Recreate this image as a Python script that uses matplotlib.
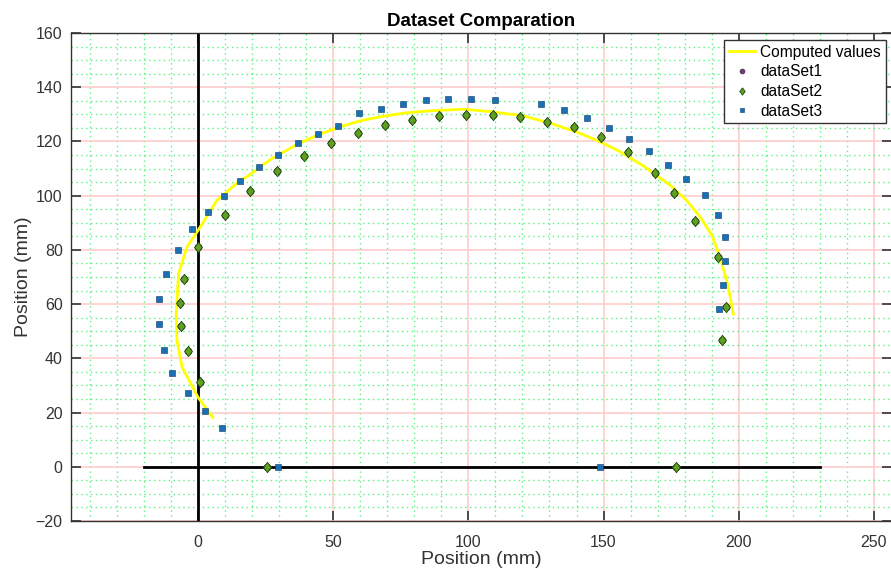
#!/usr/bin/env python3
"""Dataset comparison: computed trajectory vs three measured point sets."""

import matplotlib
matplotlib.use("Agg")
import matplotlib.pyplot as plt
from matplotlib.ticker import MultipleLocator

plt.rcParams["font.family"] = ["Liberation Sans", "DejaVu Sans"]

# computed trajectory
curve_x = [5.5, 0.0, -5.9, -7.8, -8.1, -7.2, -4.1, 0.0, 7.0, 15.6, 18.1, 27.0,
           36.6, 44.5, 52.6, 60.0, 67.4, 76.5, 85.9, 98.2, 108.0, 120.0, 130.0,
           140.0, 148.0, 155.6, 165.0, 174.6, 180.5, 185.7, 190.0, 193.1,
           196.0, 198.0]
curve_y = [18.2, 25.6, 36.7, 46.6, 56.6, 71.2, 81.1, 87.2, 98.3, 105.7, 107.0,
           113.5, 118.9, 122.5, 125.4, 127.6, 129.1, 130.5, 131.3, 131.9, 131.0,
           129.5, 126.8, 123.5, 120.2, 116.5, 110.8, 103.9, 98.5, 92.2, 85.5,
           77.4, 67.0, 56.4]

# dataSet2 (dataSet1 coincides with it)
ds2_x = [25.5, 0.85, -3.7, -6.2, -6.5, -5.3, 0.0, 9.8, 19.3, 29.3, 39.2, 49.2,
         59.1, 69.2, 79.1, 89.1, 99.1, 109.1, 119.0, 129.1, 139.1, 149.1, 159.1,
         169.1, 176.0, 183.8, 192.5, 195.2, 193.9, 176.8]
ds2_y = [0.0, 31.2, 42.6, 51.9, 60.5, 69.4, 81.1, 92.8, 101.7, 109.2, 114.5,
         119.3, 123.2, 126.1, 128.0, 129.4, 129.9, 129.6, 129.0, 127.1, 125.3,
         121.7, 116.0, 108.2, 100.8, 90.7, 77.4, 59.1, 46.6, 0.0]
ds1_x = list(ds2_x)
ds1_y = list(ds2_y)

# dataSet3
ds3_x = [29.6, 9.0, 2.6, -3.7, -9.5, -12.5, -14.3, -14.6, -11.8, -7.4, -2.2,
         3.7, 9.7, 15.6, 22.4, 29.4, 36.8, 44.2, 51.9, 59.7, 67.8, 75.9, 84.3,
         92.5, 101.1, 109.9, 126.9, 135.4, 143.8, 152.1, 159.4, 166.7, 173.8,
         180.6, 187.5, 192.2, 194.8, 195.0, 194.3, 192.8, 148.7]
ds3_y = [0.0, 14.4, 20.4, 27.2, 34.6, 43.1, 52.5, 61.9, 71.1, 80.1, 87.6,
         94.0, 99.8, 105.4, 110.4, 115.1, 119.3, 122.7, 125.7, 130.4, 131.9,
         133.9, 135.2, 135.8, 135.8, 135.2, 133.8, 131.5, 128.8, 124.8, 121.0,
         116.4, 111.4, 106.2, 100.4, 93.0, 84.8, 75.8, 67.2, 58.2, 0.0]

# reference axes drawn in black
xaxis_x = [-20, 230]
xaxis_y = [0, 0]
yaxis_x = [0, 0]
yaxis_y = [-20, 160]

# slightly narrow diamond, like the reference marker
DIAMOND = [(0, 1), (0.75, 0), (0, -1), (-0.75, 0), (0, 1)]


def main():
    fig = plt.figure(figsize=(8.91, 5.73), dpi=100)
    ax = fig.add_axes([71 / 891, 52 / 573, 821 / 891, 488 / 573])

    ax.set_xlim(-47, 256.7)
    ax.set_ylim(-20, 160)

    # grids: pink major, green dotted minor
    ax.xaxis.set_major_locator(MultipleLocator(50))
    ax.yaxis.set_major_locator(MultipleLocator(20))
    ax.xaxis.set_minor_locator(MultipleLocator(10))
    ax.yaxis.set_minor_locator(MultipleLocator(5))
    ax.grid(which="minor", color="#22ee55", linestyle=(0, (1, 2.5)), lw=1.0, alpha=0.75)
    ax.grid(which="major", color="#ffcccc", linestyle="-", lw=1.2)
    ax.set_axisbelow(True)

    ax.plot(yaxis_x, yaxis_y, color="black", lw=2, zorder=2)
    ax.plot(xaxis_x, xaxis_y, color="black", lw=2, zorder=2)

    ax.plot(curve_x, curve_y, color="#ffff00", lw=2, label="Computed values", zorder=3)
    ax.plot(ds1_x, ds1_y, "o", color="#7e2f8e", ms=5, mec="#333333", mew=0.5,
            label="dataSet1", zorder=4)
    ax.plot(ds2_x, ds2_y, marker=DIAMOND, ls="none", color="#5fa020", ms=7.5,
            mec="#1f4a10", mew=0.6, label="dataSet2", zorder=5)
    ax.plot(ds3_x, ds3_y, "s", color="#1b6fb5", ms=4.5, mec="#0b3a66", mew=0.4,
            label="dataSet3", zorder=5)

    ax.tick_params(which="major", direction="in", length=7, width=1.2,
                   top=True, right=True, labelsize=11.5, color="#333333",
                   labelcolor="#333333")
    ax.tick_params(axis="x", pad=10)
    ax.tick_params(axis="y", pad=6)
    ax.tick_params(which="minor", length=0)
    for sp in ax.spines.values():
        sp.set_color("#333333")
        sp.set_linewidth(1.0)

    ax.set_title("Dataset Comparation", fontsize=13.5, fontweight="bold", pad=5)
    ax.set_xlabel("Position (mm)", fontsize=14, color="#333333", labelpad=1)
    ax.set_ylabel("Position (mm)", fontsize=14, color="#333333", labelpad=3)

    leg = ax.legend(loc="upper right", bbox_to_anchor=(885.7 / 891, 533 / 573),
                    bbox_transform=fig.transFigure, borderaxespad=0,
                    fontsize=11.2, fancybox=False, framealpha=1,
                    edgecolor="#333333", handlelength=1.7, handletextpad=0.35,
                    labelspacing=0.3, borderpad=0.3, markerscale=0.7)
    leg.get_frame().set_linewidth(1.0)

    fig.savefig("out.png", dpi=100)


if __name__ == "__main__":
    main()
